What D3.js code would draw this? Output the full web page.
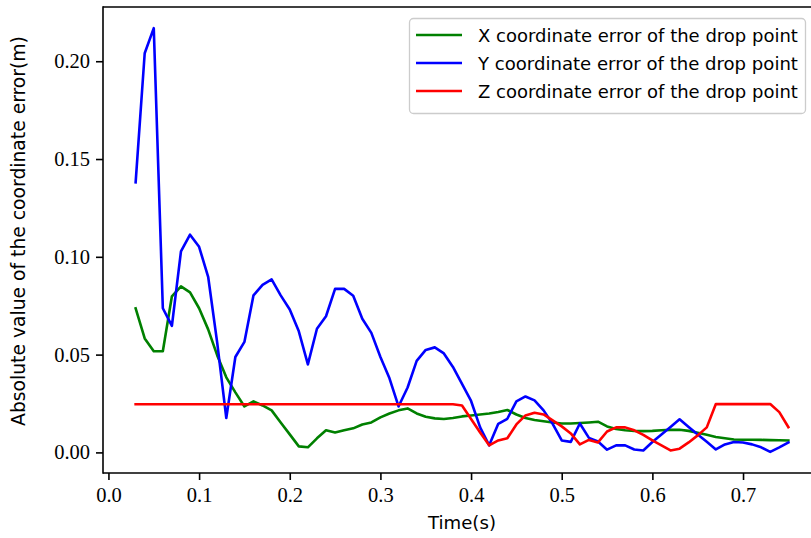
<!DOCTYPE html>
<html>
<head>
<meta charset="utf-8">
<script src="https://cdn.jsdelivr.net/npm/d3@7"></script>
<style>
  html, body { margin: 0; padding: 0; background: #fff; }
  svg { display: block; }
</style>
</head>
<body>
<svg id="chart" width="811" height="538"></svg>
<script>
// ---- data ----
const times = d3.range(73).map(i => +(0.03 + 0.01 * i).toFixed(2));
const xError = [0.0737,0.0583,0.0517,0.0517,0.0798,0.0849,0.0818,0.0737,0.0629,0.0496,
  0.0384,0.0307,0.0235,0.0261,0.0240,0.0215,0.0153,0.0092,0.0031,0.0026,
  0.0072,0.0113,0.0102,0.0113,0.0123,0.0143,0.0153,0.0179,0.0199,0.0215,
  0.0225,0.0199,0.0182,0.0174,0.0171,0.0176,0.0184,0.0189,0.0194,0.0199,
  0.0207,0.0217,0.0194,0.0176,0.0166,0.0159,0.0153,0.0148,0.0148,0.0150,
  0.0153,0.0157,0.0133,0.0120,0.0113,0.0110,0.0109,0.0110,0.0113,0.0115,
  0.0116,0.0110,0.0100,0.0090,0.0079,0.0072,0.0066,0.0065,0.0065,0.0064,
  0.0063,0.0062,0.0061];
const yError = [0.1381,0.2041,0.2169,0.0737,0.0647,0.1028,0.1113,0.1051,0.0898,0.0560,
  0.0176,0.0488,0.0565,0.0803,0.0857,0.0885,0.0803,0.0731,0.0619,0.0450,
  0.0632,0.0696,0.0836,0.0836,0.0801,0.0683,0.0611,0.0488,0.0379,0.0235,
  0.0332,0.0468,0.0524,0.0537,0.0506,0.0437,0.0350,0.0263,0.0128,0.0036,
  0.0146,0.0172,0.0261,0.0286,0.0266,0.0215,0.0146,0.0061,0.0054,0.0148,
  0.0074,0.0056,0.0014,0.0036,0.0036,0.0015,0.0010,0.0053,0.0092,0.0130,
  0.0169,0.0130,0.0092,0.0054,0.0015,0.0041,0.0053,0.0051,0.0041,0.0026,
  0.0003,0.0026,0.0051];
const zError = [0.0246,0.0246,0.0246,0.0246,0.0246,0.0246,0.0246,0.0246,0.0246,0.0246,
  0.0246,0.0246,0.0246,0.0246,0.0246,0.0246,0.0246,0.0246,0.0246,0.0246,
  0.0246,0.0246,0.0246,0.0246,0.0246,0.0246,0.0246,0.0246,0.0246,0.0246,
  0.0246,0.0246,0.0246,0.0246,0.0246,0.0246,0.0240,0.0171,0.0102,0.0036,
  0.0061,0.0072,0.0143,0.0189,0.0203,0.0194,0.0164,0.0133,0.0097,0.0041,
  0.0064,0.0051,0.0107,0.0128,0.0128,0.0113,0.0090,0.0061,0.0036,0.0010,
  0.0019,0.0051,0.0087,0.0128,0.0247,0.0247,0.0247,0.0247,0.0247,0.0247,
  0.0247,0.0206,0.0129];
const seriesNames = ["X coordinate error of the drop point",
                     "Y coordinate error of the drop point",
                     "Z coordinate error of the drop point"];
const seriesColors = ["green", "blue", "red"];
const seriesValues = [xError, yError, zError];
const xTicks = [0.0, 0.1, 0.2, 0.3, 0.4, 0.5, 0.6, 0.7];
const yTicks = [0.00, 0.05, 0.10, 0.15, 0.20];
const xLabel = "Time(s)";
const yLabel = "Absolute value of the coordinate error(m)";

// ---- layout ----
const svg = d3.select("#chart");
const plot = { left: 103, top: 7, right: 821, bottom: 473 };

const xMin = d3.min(times), xMax = d3.max(times);
const xPad = (xMax - xMin) * 0.05;
const allVals = seriesValues.flat();
const yMin = d3.min(allVals), yMax = d3.max(allVals);
const yPad = (yMax - yMin) * 0.05;

const x = d3.scaleLinear().domain([xMin - xPad, xMax + xPad]).range([plot.left, plot.right]);
const y = d3.scaleLinear().domain([yMin - yPad, yMax + yPad]).range([plot.bottom, plot.top]);

const serif = "'Liberation Serif', 'DejaVu Serif', serif";
const sans = "'DejaVu Sans', 'Noto Sans', sans-serif";

// fit a text element's font size so its rendered width matches a target
function fitWidth(sel, target, base) {
  sel.style("font-size", base + "px");
  const w = sel.node().getComputedTextLength();
  if (w > 0) sel.style("font-size", (base * target / w).toFixed(2) + "px");
  return sel;
}

// lines
const line = d3.line().x((d, i) => x(times[i])).y(d => y(d));
seriesValues.forEach((vals, k) => {
  svg.append("path")
    .datum(vals)
    .attr("fill", "none")
    .attr("stroke", seriesColors[k])
    .attr("stroke-width", 2.6)
    .attr("stroke-linejoin", "round")
    .attr("stroke-linecap", "square")
    .attr("d", line);
});

// axes
const xAxis = d3.axisBottom(x).tickValues(xTicks).tickFormat(d3.format(".1f")).tickSize(7).tickPadding(7);
const yAxis = d3.axisLeft(y).tickValues(yTicks).tickFormat(d3.format(".2f")).tickSize(7).tickPadding(6);

const gx = svg.append("g").attr("transform", `translate(0,${plot.bottom})`).call(xAxis);
const gy = svg.append("g").attr("transform", `translate(${plot.left},0)`).call(yAxis);
[gx, gy].forEach(g => {
  g.select(".domain").remove();
  g.selectAll(".tick line").attr("stroke", "#000").attr("stroke-width", 1.6);
  g.selectAll(".tick text").attr("fill", "#000").style("font-family", serif).style("font-size", "20.5px");
});

// spines (left, top, bottom)
svg.append("line").attr("x1", plot.left).attr("x2", plot.left).attr("y1", plot.top - 0.8).attr("y2", plot.bottom + 0.8)
  .attr("stroke", "#000").attr("stroke-width", 1.6);
svg.append("line").attr("x1", plot.left).attr("x2", plot.right).attr("y1", plot.top).attr("y2", plot.top)
  .attr("stroke", "#000").attr("stroke-width", 1.6);
svg.append("line").attr("x1", plot.left).attr("x2", plot.right).attr("y1", plot.bottom).attr("y2", plot.bottom)
  .attr("stroke", "#000").attr("stroke-width", 1.6);

// axis labels
const xl = svg.append("text").attr("x", (plot.left + plot.right) / 2).attr("y", 529)
  .attr("text-anchor", "middle").style("font-family", sans).text(xLabel);
fitWidth(xl, 68, 17);
const yl = svg.append("text").attr("transform", `translate(25,231) rotate(-90)`)
  .attr("text-anchor", "middle").style("font-family", sans).text(yLabel);
fitWidth(yl, 390, 17);

// legend
const lg = svg.append("g");
lg.append("rect").attr("x", 409.5).attr("y", 18.5).attr("width", 396).attr("height", 95)
  .attr("rx", 4).attr("fill", "#fff").attr("fill-opacity", 0.8)
  .attr("stroke", "#ccc").attr("stroke-width", 1.3);
seriesNames.forEach((name, k) => {
  const cy = 35 + k * 28;
  lg.append("line").attr("x1", 416).attr("x2", 462).attr("y1", cy).attr("y2", cy)
    .attr("stroke", seriesColors[k]).attr("stroke-width", 2.6);
  const t = lg.append("text").attr("x", 478).attr("y", cy + 6.5)
    .style("font-family", sans).text(name);
  fitWidth(t, 320, 17);
});
</script>
</body>
</html>
